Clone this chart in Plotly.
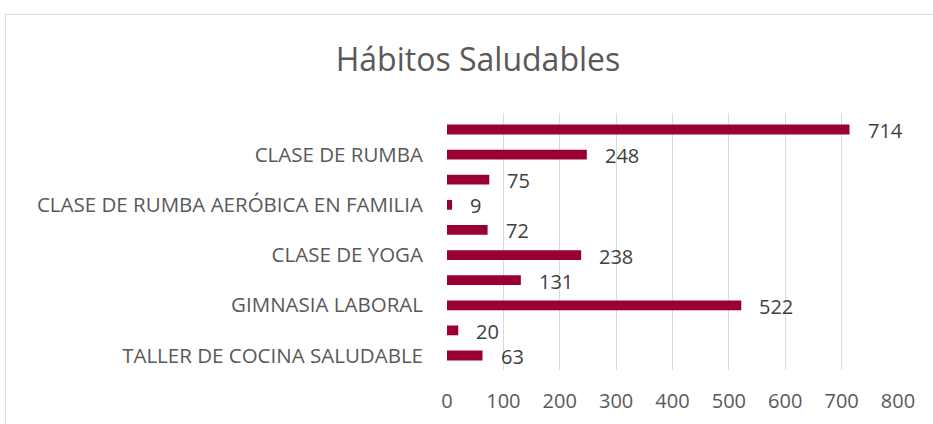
import plotly.graph_objects as go

# Categories top-to-bottom (only every other label is shown, as in the reference)
categories = [
    "ACTIVIDAD 1",
    "CLASE DE RUMBA",
    "ACTIVIDAD 3",
    "CLASE DE RUMBA AERÓBICA EN FAMILIA",
    "ACTIVIDAD 5",
    "CLASE DE YOGA",
    "ACTIVIDAD 7",
    "GIMNASIA LABORAL",
    "ACTIVIDAD 9",
    "TALLER DE COCINA SALUDABLE",
]
values = [714, 248, 75, 9, 72, 238, 131, 522, 20, 63]
shown_labels = [categories[i] for i in range(1, len(categories), 2)]
x_ticks = [0, 100, 200, 300, 400, 500, 600, 700, 800]

FONT = "Open Sans"
BAR = "#990033"

L, T = 447, 113
R = 933 - 898
B = 424 - 370
PW, PH = 933 - L - R, 424 - T - B

fig = go.Figure()
fig.add_trace(go.Bar(
    y=categories, x=values, orientation="h",
    marker=dict(color=BAR, line=dict(width=0)),
    hoverinfo="x+y",
))

for c, v in zip(categories, values):
    fig.add_annotation(x=v, y=c, text=str(v), showarrow=False,
                       xanchor="left", xshift=16, yshift=-1,
                       font=dict(family=FONT, size=20, color="#404040"))

fig.add_shape(type="rect", xref="paper", yref="paper",
              x0=(5.5 - L) / PW, x1=(950 - L) / PW,
              y0=1 - (440 - T) / PH, y1=1 + (T - 14.5) / PH,
              line=dict(color="#d9d9d9", width=1.2), layer="below")

fig.update_layout(
    width=933, height=424,
    margin=dict(l=L, r=R, t=T, b=B, autoexpand=False),
    paper_bgcolor="white", plot_bgcolor="white",
    bargap=0.61,
    showlegend=False,
    title=dict(text="Hábitos Saludables", x=478 / 933, xanchor="center",
               y=1 - 60 / 424, yanchor="middle",
               font=dict(family=FONT, size=32, color="#595959")),
    xaxis=dict(range=[0, 800], tickvals=x_ticks, showgrid=True,
               gridcolor="#d9d9d9", gridwidth=1, zeroline=False,
               showline=False, ticks="", ticklabelstandoff=17, automargin=False,
               tickfont=dict(family=FONT, size=20, color="#595959")),
    yaxis=dict(autorange="reversed", tickmode="array", tickvals=shown_labels,
               ticktext=shown_labels, showgrid=False, zeroline=False,
               showline=False, ticks="", ticklabelstandoff=23, automargin=False,
               tickfont=dict(family=FONT, size=20.5, color="#595959")),
)

fig.write_html("out.html", config={"displayModeBar": False},
               post_script="document.body.style.margin='0';document.body.style.overflow='hidden';")
